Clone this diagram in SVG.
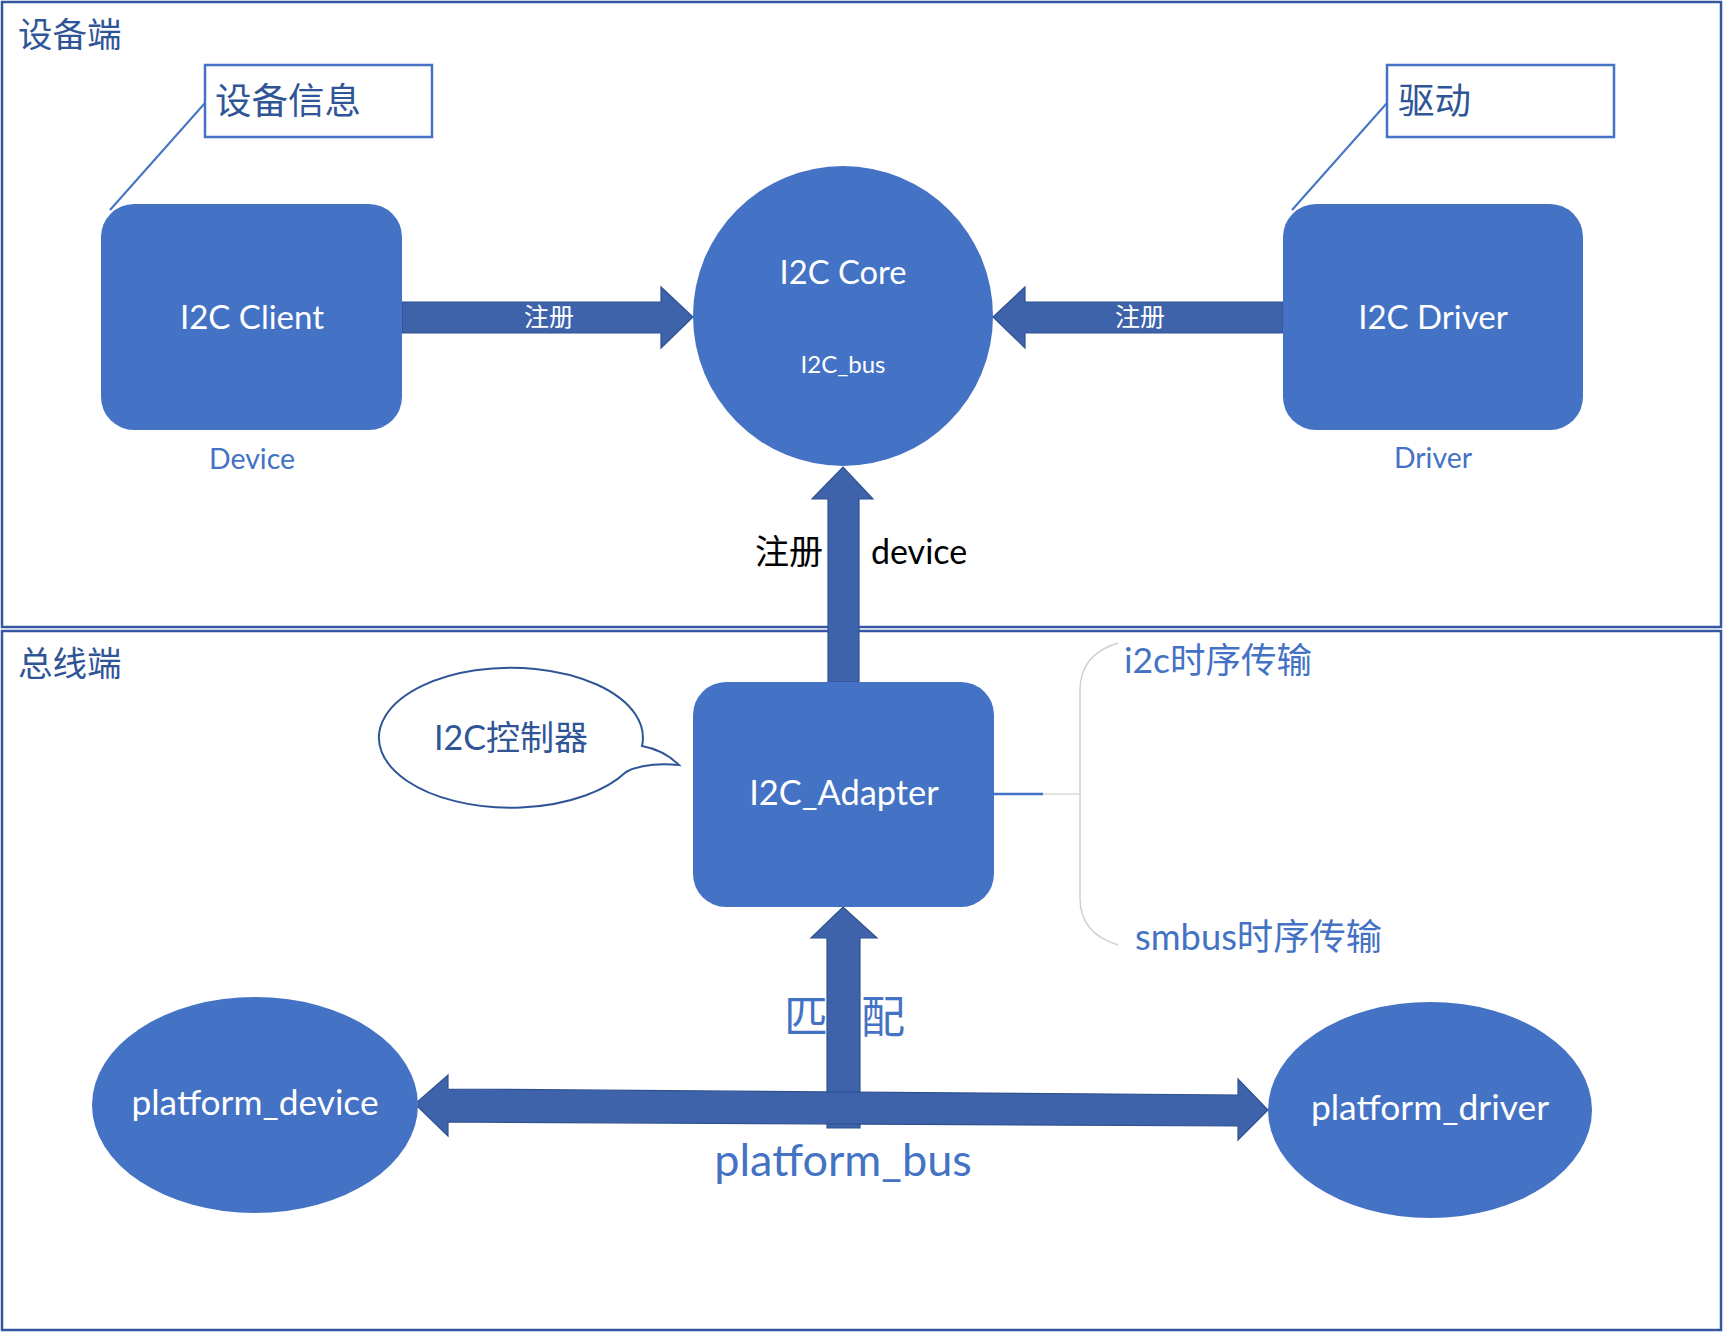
<svg xmlns="http://www.w3.org/2000/svg" width="1724" height="1333" viewBox="0 0 1724 1333">
<style>
.sec{fill:#ffffff;stroke:#3458a0;stroke-width:2.5}
.node{fill:#4472c4}
.arrow{fill:#3e63ab;stroke:#2f528f;stroke-width:1.2}
.callout{fill:#ffffff;stroke:#4472c4;stroke-width:2.5}
.leader{stroke:#4472c4;stroke-width:2;fill:none}
.t{font-family:Lato,"Noto Sans CJK SC",sans-serif}
.w{fill:#ffffff}
.b{fill:#4472c4}
.d{fill:#2f5597}
.k{fill:#000000}
</style>
<rect width="1724" height="1333" fill="#ffffff"/>
<g id="section-device">
<rect class="sec" x="2" y="2" width="1719" height="625"/>
<text class="t d" x="18" y="47" font-size="34.5">设备端</text>
</g>
<g id="section-bus">
<rect class="sec" x="2" y="631" width="1719" height="699"/>
<text class="t d" x="18" y="676" font-size="34.5">总线端</text>
</g>
<g id="connectors">
<polygon class="arrow" points="402,302 661,302 661,287 693,317 661,348 661,333 402,333"/>
<polygon class="arrow" points="1283,302 1025,302 1025,287 993,317 1025,348 1025,333 1283,333"/>
<polygon class="arrow" points="828,682 828,499 812,499 843,467 873,499 859,499 859,682"/>
<polygon class="arrow" points="827,1128 827,938 811,938 843,907 877,938 860,938 860,1128"/>
<polygon class="arrow" points="415,1104 448,1075 448,1089 1238,1095 1238,1079 1268,1110 1238,1140 1238,1126 448,1122 448,1136"/>
<line class="leader" x1="205" y1="103" x2="110" y2="210"/>
<line class="leader" x1="1387" y1="103" x2="1292" y2="210"/>
<line x1="994" y1="794" x2="1043" y2="794" stroke="#4472c4" stroke-width="2.5"/>
<line x1="1043" y1="794" x2="1080" y2="794" stroke="#c8c8c8" stroke-width="1.2"/>
<path d="M1118 643 C1095 650 1080 665 1080 690 L1080 898 C1080 923 1095 938 1118 945" fill="none" stroke="#d0d0d0" stroke-width="1.5"/>
<text class="t w" x="549" y="326" font-size="25" text-anchor="middle">注册</text>
<text class="t w" x="1140" y="326" font-size="25" text-anchor="middle">注册</text>
<text class="t k" font-size="34" y="564"><tspan x="755">注册</tspan><tspan x="871">device</tspan></text>
<text class="t b" x="784" y="1033" font-size="44" letter-spacing="33">匹配</text>
<text class="t b" x="843" y="1176" font-size="45" text-anchor="middle">platform_bus</text>
</g>
<g id="note-device-info">
<rect class="callout" x="205" y="65" width="227" height="72"/>
<text class="t d" x="215" y="114" font-size="36.5">设备信息</text>
</g>
<g id="note-driver">
<rect class="callout" x="1387" y="65" width="227" height="72"/>
<text class="t d" x="1398" y="114" font-size="36.5">驱动</text>
</g>
<g id="i2c-client">
<rect class="node" x="101" y="204" width="301" height="226" rx="33" ry="33"/>
<text class="t w" x="252" y="329" font-size="33" text-anchor="middle">I2C Client</text>
<text class="t b" x="252" y="469" font-size="28.5" text-anchor="middle">Device</text>
</g>
<g id="i2c-core">
<circle class="node" cx="843" cy="316" r="150"/>
<text class="t w" x="843" y="284" font-size="32.7" text-anchor="middle">I2C Core</text>
<text class="t w" x="843" y="373" font-size="24" text-anchor="middle">I2C_bus</text>
</g>
<g id="i2c-driver">
<rect class="node" x="1283" y="204" width="300" height="226" rx="33" ry="33"/>
<text class="t w" x="1433" y="329" font-size="33" text-anchor="middle">I2C Driver</text>
<text class="t b" x="1433" y="468" font-size="28.4" text-anchor="middle">Driver</text>
</g>
<g id="i2c-controller-bubble">
<path d="M642 746 A132 70 0 1 0 626 772 Q645 762 679 765 Q664 750 642 746 Z" fill="#ffffff" stroke="#2f5597" stroke-width="2"/>
<text class="t d" x="511" y="750" font-size="34" text-anchor="middle">I2C控制器</text>
</g>
<g id="i2c-adapter">
<rect class="node" x="693" y="682" width="301" height="225" rx="33" ry="33"/>
<text class="t w" x="844" y="805" font-size="34.4" text-anchor="middle">I2C_Adapter</text>
</g>
<g id="timing-labels">
<text class="t b" x="1124" y="673" font-size="35.5">i2c时序传输</text>
<text class="t b" x="1135" y="950" font-size="36.3">smbus时序传输</text>
</g>
<g id="platform-device">
<ellipse class="node" cx="255" cy="1105" rx="163" ry="108"/>
<text class="t w" x="255" y="1115" font-size="35.3" text-anchor="middle">platform_device</text>
</g>
<g id="platform-driver">
<ellipse class="node" cx="1430" cy="1110" rx="162" ry="108"/>
<text class="t w" x="1430" y="1120" font-size="35.4" text-anchor="middle">platform_driver</text>
</g>
</svg>
